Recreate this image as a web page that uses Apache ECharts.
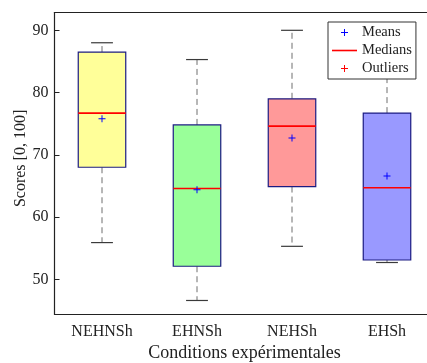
<!DOCTYPE html>
<html>
<head>
<meta charset="utf-8">
<script src="https://cdn.jsdelivr.net/npm/echarts@6/dist/echarts.min.js"></script>
<style>
  html, body { margin: 0; padding: 0; background: #fff; }
  #main { width: 427px; height: 363px; }
</style>
</head>
<body>
<div id="main"></div>
<script>
var categories = ['NEHNSh', 'EHNSh', 'NEHSh', 'EHSh'];
var whiskerLow = [55.9, 46.6, 55.3, 52.7];
var q1 = [68.0, 52.1, 64.9, 53.1];
var medians = [76.7, 64.6, 74.6, 64.7];
var q3 = [86.5, 74.8, 79.0, 76.7];
var whiskerHigh = [88.0, 85.3, 90.0, 88.0];
var means = [75.8, 64.4, 72.7, 66.6];
var outliers = [];
var yTicks = [50, 60, 70, 80, 90];

var boxColors = ['#ffff99', '#99ff99', '#ff9999', '#9999ff'];
var font = 'Liberation Serif';
var plusPath = 'path://M4.3,0H5.7V4.3H10V5.7H5.7V10H4.3V5.7H0V4.3H4.3Z';
var linePath = 'path://M0,0H25V1.6H0Z';

var chart = echarts.init(document.getElementById('main'));

// 箱线图数据
var boxData = categories.map(function (c, i) {
  return [i, whiskerLow[i], q1[i], medians[i], q3[i], whiskerHigh[i]];
});

function renderBox(params, api) {
  var i = api.value(0);
  var xc = api.coord([i, api.value(3)])[0];
  var yLow = api.coord([i, api.value(1)])[1];
  var yQ1 = api.coord([i, api.value(2)])[1];
  var yMed = api.coord([i, api.value(3)])[1];
  var yQ3 = api.coord([i, api.value(4)])[1];
  var yHigh = api.coord([i, api.value(5)])[1];
  var band = api.size([1, 0])[0];
  var hw = band * 0.25;
  var cw = band * 0.115;
  var dash = { stroke: '#6e6e6e', lineWidth: 1, lineDash: [6, 4] };
  var cap = { stroke: '#3a3a3a', lineWidth: 1.2 };
  return {
    type: 'group',
    children: [
      { type: 'line', shape: { x1: xc, y1: yQ3, x2: xc, y2: yHigh }, style: dash },
      { type: 'line', shape: { x1: xc, y1: yQ1, x2: xc, y2: yLow }, style: dash },
      { type: 'line', shape: { x1: xc - cw, y1: yHigh, x2: xc + cw, y2: yHigh }, style: cap },
      { type: 'line', shape: { x1: xc - cw, y1: yLow, x2: xc + cw, y2: yLow }, style: cap },
      {
        type: 'rect',
        shape: { x: xc - hw, y: yQ3, width: hw * 2, height: yQ1 - yQ3 },
        style: { fill: boxColors[params.dataIndex], stroke: '#1c1c82', lineWidth: 1.2 }
      },
      { type: 'line', shape: { x1: xc - hw, y1: yMed, x2: xc + hw, y2: yMed }, style: { stroke: '#ff0000', lineWidth: 1.6 } }
    ]
  };
}

var option = {
  animation: false,
  grid: { left: 54.5, top: 12.5, bottom: 48.7, right: -7.5, outerBoundsMode: 'none', containLabel: false },
  legend: {
    orient: 'vertical',
    left: 328,
    top: 22,
    padding: [3, 4, 3, 4],
    itemGap: 3,
    itemWidth: 25,
    itemHeight: 7,
    borderColor: '#333',
    borderWidth: 1,
    backgroundColor: '#fff',
    data: [
      { name: 'Means' },
      { name: 'Medians', icon: linePath },
      { name: 'Outliers' }
    ],
    textStyle: { fontFamily: font, fontSize: 14.5, color: '#222' }
  },
  xAxis: [{
    type: 'category',
    data: categories,
    position: 'bottom',
    name: 'Conditions expérimentales',
    nameLocation: 'middle',
    nameGap: 30,
    nameMoveOverlap: false,
    nameTextStyle: { fontFamily: font, fontSize: 18, color: '#222' },
    axisLine: { lineStyle: { color: '#222', width: 1.2 } },
    axisTick: { inside: true, alignWithLabel: true, length: 5, lineStyle: { color: '#222' } },
    axisLabel: { fontFamily: font, fontSize: 16, color: '#222', margin: 9.5 },
    splitLine: { show: false }
  }, {
    type: 'category',
    data: categories,
    position: 'top',
    axisLine: { lineStyle: { color: '#222', width: 1.2 } },
    axisTick: { inside: true, alignWithLabel: true, length: 5, lineStyle: { color: '#222' } },
    axisLabel: { show: false },
    splitLine: { show: false }
  }],
  yAxis: {
    type: 'value',
    min: 44.38,
    max: 92.86,
    name: 'Scores [0, 100]',
    nameLocation: 'middle',
    nameGap: 26,
    nameMoveOverlap: false,
    nameTextStyle: { fontFamily: font, fontSize: 16, color: '#222', padding: [0, 0, 0, 10] },
    axisLine: { show: true, lineStyle: { color: '#222', width: 1.2 } },
    axisTick: { show: true, inside: true, length: 5, customValues: yTicks, lineStyle: { color: '#222' } },
    axisLabel: { fontFamily: font, fontSize: 16, color: '#222', margin: 6, customValues: yTicks },
    splitLine: { show: false }
  },
  series: [{
    name: 'box',
    type: 'custom',
    renderItem: renderBox,
    encode: { x: 0, y: [1, 2, 3, 4, 5] },
    data: boxData,
    z: 2
  }, {
    name: 'Means',
    type: 'scatter',
    symbol: plusPath,
    symbolSize: 7,
    itemStyle: { color: '#0000ff', opacity: 1 },
    data: means,
    z: 5
  }, {
    name: 'Medians',
    type: 'line',
    symbol: 'none',
    lineStyle: { color: '#ff0000', width: 1.6 },
    itemStyle: { color: '#ff0000' },
    data: []
  }, {
    name: 'Outliers',
    type: 'scatter',
    symbol: plusPath,
    symbolSize: 7,
    itemStyle: { color: '#ff0000', opacity: 1 },
    data: outliers
  }]
};

chart.setOption(option);
</script>
</body>
</html>
